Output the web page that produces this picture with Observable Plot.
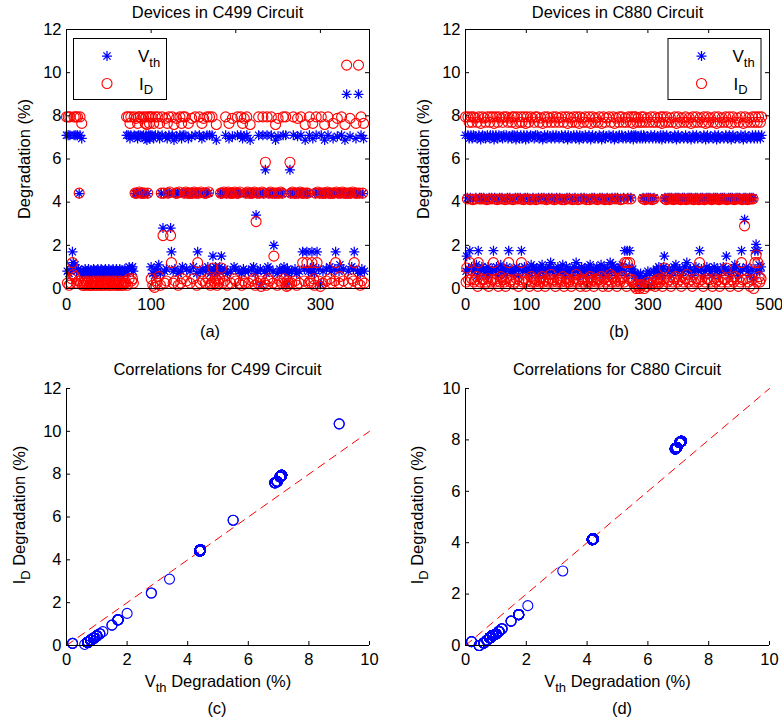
<!DOCTYPE html>
<html><head><meta charset="utf-8">
<script src="https://cdn.jsdelivr.net/npm/d3@7"></script>
<script src="https://cdn.jsdelivr.net/npm/@observablehq/plot@0.6"></script>
<style>
body{margin:0;background:#fff;}
#root{position:relative;width:782px;height:725px;background:#fff;font-family:"Liberation Sans",Arial,Helvetica,sans-serif;}
#root svg.panel{position:absolute;}
#overlay{position:absolute;left:0;top:0;pointer-events:none;}
</style></head><body><div id="root"></div>
<script>
// ---------- data ----------
// C499: level codes -> (Vth %, ID %) pairs, and the device-by-device code sequence
const c499Codes = "ABCDEFGHIJKLMNOPQRabc";
const c499VthLevels = [6.95, 7.1, 4.4, 0.8, 0.7, 0.9, 1.0, 1.1, 1.2, 1.7, 1.5, 2.0, 2.8, 3.4, 5.5, 9.0, 0.6, 0.2, 6.88, 7.05, 4.42];
const c499IdLevels  = [7.65, 7.95, 4.42, 0.25, 0.15, 0.35, 0.45, 0.55, 0.65, 1.2, 0.95, 1.5, 2.45, 3.1, 5.85, 10.35, 0.05, 0.1, 7.6, 7.88, 4.47];
const c499Devices =
  "BDBEBDGJIB" + "HBDBFCBDAE" + "DEFDEDFEDE" + "EDFDEDEFDE" + "DFEDEDFDED" +
  "FEDEDFDEDF" + "EDEFDEDEDF" + "DBEBGABFGD" + "BCbCABcBCb" + "CBCABaCBAB" +
  "GBEAQBFDBHAE" + "CBMC" + "DbFA" + "CBcM" + "JBDaF" + "CbCEc" + "BDAGB" +
  "CBcFCACDCbCGcBCEJ" + "CBDcAFbCDCBGc" + "BEDBKFDGaEFDG" + "CK" +
  "CDcFBCEcACDCbCGcFCBCDc" + "BEAFbD" + "CBcDCaCFCGcENCDBCFRcBC" + "DOEBG" +
  "CFcBCDLCaCEbCFcDCBG" + "DBRFEDO" + "CDcBCFCEbCDcBCJCFaCJCD" + "BFDJAGE" +
  "CBJcFCRBCD" + "CaCFcBCGCD" + "CACFJcbCDH" + "CBcFCaCPCD" + "CbCGcFJCAC" + "DPCEBFCAD";

// C880: level codes -> (Vth %, ID %) pairs, and the device-by-device code sequence
const c880Codes = "ABCDEFGHIJKLNQRSabc";
const c880VthLevels = [6.95, 7.1, 4.2, 0.8, 0.6, 1.0, 0.9, 1.1, 1.2, 1.75, 1.5, 2.05, 3.2, 0.45, 0.2, 0.7, 6.9, 7.05, 4.17];
const c880IdLevels  = [7.7, 7.95, 4.15, 0.3, 0.1, 0.45, 0.4, 0.55, 0.65, 1.2, 0.95, 1.55, 2.9, 0.0, 0.15, 0.2, 7.65, 7.9, 4.12];
const c880Devices =
  "BDKCBGAJCB" + "FAcBDGbCHA" + "EJBCDaCFBG" + "CbSADcBFEC" + "ABDCGBJaCD" +
  "BFcAEBCDHb" + "CAGBDcEBFC" + "AJbCDGABcS" + "BDCaFBCEGA" + "CBJADcBFCa" +
  "DBCGAEcBHD" + "bCFADBcGBE" + "CADFbCHaDC" + "BEGcABDCFb" + "IACDBGcAEB" +
  "CDFbACGDBc" + "HAEcBDFCaB" + "DCGbEAcDBF" + "CAIBDcGaBE" + "CFbDACGBEc" +
  "ADFBcHaDCB" + "GECAbDFcAG" + "BCDHaCEBFc" + "ADbCGEBcIA" + "DCHBFaCDbE" +
  "CGABDcFBHA" + "CDJbAEJCBF" + "JACBDGaBES" + "BQARbEQASB" + "RACBQcAECb" +
  "DCASCBRcAD" + "CBEAGDbSFA" + "DBGaEBFKCA" + "cBDCAGCbEC" + "ADcFBCHaCD" +
  "BCGAcEbCDA" + "CFBcIACDbC" + "GaCEBcDACF" + "BCADcJbCGA" + "CEBcDaCFBC" +
  "AGCbDcEACF" + "BCDaCGBcEA" + "CDbCFACGBK" + "cADCBECaGC" + "BDcHACFbCE" +
  "ACDBJcGaCN" + "BCFAcDbCEA" + "CGBCQAJBLD" + "AJBHDAFB";

const refLine = [0, 10];                 // y = x reference (dashed)
const xTicksA = [0, 100, 200, 300];
const xTicksB = [0, 100, 200, 300, 400, 500];
const yTicksTop = [0, 2, 4, 6, 8, 10, 12];
const xTicksCorr = [0, 2, 4, 6, 8, 10];
const yTicksC = [0, 2, 4, 6, 8, 10, 12];
const yTicksD = [0, 2, 4, 6, 8, 10];

function decode(seq, codes, vthL, idL) {
  return Array.from(seq, (ch, i) => {
    const k = codes.indexOf(ch);
    return {i, vth: vthL[k], id: idL[k]};
  });
}
const c499 = decode(c499Devices, c499Codes, c499VthLevels, c499IdLevels);
const c880 = decode(c880Devices, c880Codes, c880VthLevels, c880IdLevels);

// ---------- styling ----------
const BLUE = "#0000ff", RED = "#ff0000";
const FONT = '"Liberation Sans", Arial, Helvetica, sans-serif';
const R = 5;
const asterisk = {
  draw(context, size) {
    const r = Math.sqrt(size / Math.PI);
    const d = r * 0.72;
    context.moveTo(-r, 0); context.lineTo(r, 0);
    context.moveTo(0, -r); context.lineTo(0, r);
    context.moveTo(-d, -d); context.lineTo(d, d);
    context.moveTo(-d, d); context.lineTo(d, -d);
  }
};

const root = document.getElementById("root");

function panel({left, top, width, height, mt, mr, mb, ml, xDomain, yDomain, xTicks, yTicks, boxed, xPad, marks}) {
  const innerW = width - ml - mr, innerH = height - mt - mb, tl = 4;
  const deco = [
    Plot.tickX(xTicks, {x: d => d, insetTop: innerH - tl, stroke: "black"}),
    Plot.tickY(yTicks, {y: d => d, insetRight: innerW - tl, stroke: "black"})
  ];
  if (boxed) {
    deco.push(
      Plot.tickX(xTicks, {x: d => d, insetBottom: innerH - tl, stroke: "black"}),
      Plot.tickY(yTicks, {y: d => d, insetLeft: innerW - tl, stroke: "black"}),
      Plot.frame({stroke: "black"})
    );
  } else {
    deco.push(Plot.ruleX([xDomain[0]], {stroke: "black"}), Plot.ruleY([yDomain[0]], {stroke: "black"}));
  }
  const svg = Plot.plot({
    width, height, marginTop: mt, marginRight: mr, marginBottom: mb, marginLeft: ml,
    x: {domain: xDomain, ticks: xTicks, tickSize: 0, tickPadding: xPad, label: null},
    y: {domain: yDomain, ticks: yTicks, tickSize: 0, tickPadding: 5, label: null},
    style: {fontSize: "16.5px", fontFamily: FONT, color: "black", background: "transparent", overflow: "visible"},
    marks: [...marks, ...deco]
  });
  svg.classList.add("panel");
  svg.style.left = left + "px";
  svg.style.top = top + "px";
  root.appendChild(svg);
}

// (a) Devices in C499
panel({left: 0, top: 0, width: 391, height: 320, mt: 29, mr: 22, mb: 32, ml: 66,
  xDomain: [0, 358], yDomain: [0, 12], xTicks: xTicksA, yTicks: yTicksTop, boxed: true, xPad: 10,
  marks: [
    Plot.dot(c499, {x: "i", y: "vth", symbol: asterisk, r: R, stroke: BLUE, fill: "none", strokeWidth: 1.25}),
    Plot.dot(c499, {x: "i", y: "id", r: R, stroke: RED, fill: "none", strokeWidth: 1.1})
  ]});
// (b) Devices in C880
panel({left: 391, top: 0, width: 391, height: 320, mt: 29, mr: 13, mb: 32, ml: 74,
  xDomain: [0, 500], yDomain: [0, 12], xTicks: xTicksB, yTicks: yTicksTop, boxed: true, xPad: 10,
  marks: [
    Plot.dot(c880, {x: "i", y: "vth", symbol: asterisk, r: R, stroke: BLUE, fill: "none", strokeWidth: 1.25}),
    Plot.dot(c880, {x: "i", y: "id", r: R, stroke: RED, fill: "none", strokeWidth: 1.1})
  ]});
// (c) Correlations C499
panel({left: 0, top: 320, width: 391, height: 405, mt: 68, mr: 22, mb: 80, ml: 66,
  xDomain: [0, 10], yDomain: [0, 12], xTicks: xTicksCorr, yTicks: yTicksC, boxed: false, xPad: 8,
  marks: [
    Plot.line(refLine, {x: d => d, y: d => d, stroke: RED, strokeDasharray: "8,6", strokeWidth: 1}),
    Plot.dot(c499, {x: "vth", y: "id", r: R, stroke: BLUE, fill: "none", strokeWidth: 1.1})
  ]});
// (d) Correlations C880
panel({left: 391, top: 320, width: 391, height: 405, mt: 68, mr: 13, mb: 80, ml: 74,
  xDomain: [0, 10], yDomain: [0, 10], xTicks: xTicksCorr, yTicks: yTicksD, boxed: false, xPad: 8,
  marks: [
    Plot.line(refLine, {x: d => d, y: d => d, stroke: RED, strokeDasharray: "8,6", strokeWidth: 1}),
    Plot.dot(c880, {x: "vth", y: "id", r: R, stroke: BLUE, fill: "none", strokeWidth: 1.1})
  ]});

// ---------- overlay: titles, axis labels, captions, legends ----------
const ov = d3.create("svg").attr("id", "overlay").attr("width", 782).attr("height", 725)
  .attr("font-family", FONT).attr("font-size", 16.5).attr("fill", "black");

function label(x, y, text, anchor = "middle") {
  ov.append("text").attr("x", x).attr("y", y).attr("text-anchor", anchor).text(text);
}
function subLabel(x, y, main, sub, rest, rotate = false, anchor = "middle") {
  const t = ov.append("text").attr("text-anchor", anchor)
    .attr("transform", `translate(${x},${y})` + (rotate ? " rotate(-90)" : ""));
  t.append("tspan").text(main);
  t.append("tspan").attr("dy", 5).attr("font-size", 13).text(sub);
  if (rest) t.append("tspan").attr("dy", -5).text(rest);
}

label(217.5, 17.5, "Devices in C499 Circuit");
label(617.5, 17.5, "Devices in C880 Circuit");
label(217.5, 375, "Correlations for C499 Circuit");
label(617, 375, "Correlations for C880 Circuit");
label(210, 337, "(a)");
label(619, 337, "(b)");
label(217, 714, "(c)");
label(622, 714, "(d)");

// y labels top row
ov.append("text").attr("text-anchor", "middle").attr("transform", "translate(30,159) rotate(-90)").text("Degradation (%)");
ov.append("text").attr("text-anchor", "middle").attr("transform", "translate(429,159) rotate(-90)").text("Degradation (%)");
// bottom row labels
subLabel(218, 686.5, "V", "th", " Degradation (%)");
subLabel(617.5, 686.5, "V", "th", " Degradation (%)");
subLabel(25, 515, "I", "D", " Degradation (%)", true);
subLabel(423, 515, "I", "D", " Degradation (%)", true);

function legend(x0, y0) {
  const g = ov.append("g").attr("transform", `translate(${x0},${y0})`);
  g.append("rect").attr("x", 0.5).attr("y", 0.5).attr("width", 93).attr("height", 61)
    .attr("fill", "white").attr("stroke", "black").attr("stroke-width", 1);
  g.append("path").attr("d", d3.symbol(asterisk, Math.PI * R * R)())
    .attr("transform", "translate(34,18)").attr("stroke", BLUE).attr("stroke-width", 1.25).attr("fill", "none");
  g.append("circle").attr("cx", 34).attr("cy", 45.5).attr("r", R).attr("stroke", RED).attr("stroke-width", 1.1).attr("fill", "none");
  const t1 = g.append("text").attr("x", 65).attr("y", 23.5).attr("font-size", 17);
  t1.append("tspan").text("V");
  t1.append("tspan").attr("dy", 5).attr("font-size", 13).text("th");
  const t2 = g.append("text").attr("x", 66).attr("y", 52).attr("font-size", 17);
  t2.append("tspan").text("I");
  t2.append("tspan").attr("dy", 4).attr("font-size", 13).text("D");
}
legend(73, 38);
legend(667.5, 38);

root.appendChild(ov.node());
</script></body></html>
